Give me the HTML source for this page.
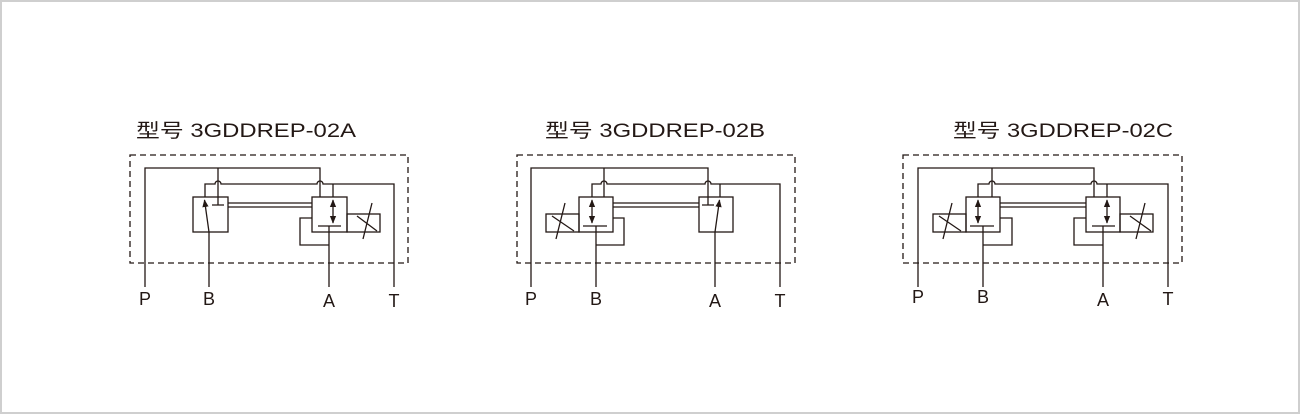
<!DOCTYPE html>
<html><head><meta charset="utf-8"><style>
html,body{margin:0;padding:0;background:#fff;}
.f{width:1296px;height:410px;border:2px solid #cfcfcf;position:relative;}
svg{position:absolute;left:-2px;top:-2px;}
</style></head><body><div class="f">
<svg width="1300" height="414" viewBox="0 0 1300 414" xmlns="http://www.w3.org/2000/svg">
<defs>
<marker id="ah" viewBox="0 0 10 10" refX="9" refY="5" markerWidth="6" markerHeight="6" orient="auto-start-reverse"><path d="M0,1 L10,5 L0,9 z" fill="#231815"/></marker>
</defs>
<g fill="none" stroke="#231815" stroke-width="1.3">
<!-- Diagram A -->
<rect x="130" y="155" width="278" height="108" stroke-dasharray="6,4"/>
<path d="M145 287 V168 H320 V197"/>
<path d="M218 168 V205 M212 205 H224"/>
<path d="M205 197 V184 H215 a3 3 0 0 1 6 0 H317 a3 3 0 0 1 6 0 H394 V287"/>
<rect x="193" y="197" width="35" height="35"/>
<path d="M209 287 V232 L204.5 200" marker-end="url(#ah)"/>
<path d="M228 203 H312 M228 207 H312"/>
<rect x="312" y="197" width="35" height="35"/>
<path d="M333 184 V197"/>
<path d="M333 200 V223" marker-start="url(#ah)" marker-end="url(#ah)"/>
<path d="M318 226 H341 M329 226 V287 M329 245 H300 V218 H312"/>
<rect x="347" y="214" width="33" height="18"/>
<path d="M357 216 L377 231 M363 239 L372 203"/>
<!-- Diagram B -->
<rect x="517" y="155" width="278" height="108" stroke-dasharray="6,4"/>
<path d="M531 287 V168 H708 V205 M702 205 H714"/>
<path d="M604 168 V197"/>
<path d="M592 197 V184 H601 a3 3 0 0 1 6 0 H705 a3 3 0 0 1 6 0 H780 V287"/>
<path d="M720 184 V197"/>
<rect x="579" y="197" width="34" height="35"/>
<path d="M592 200 V223" marker-start="url(#ah)" marker-end="url(#ah)"/>
<path d="M583 226 H607 M596 226 V287 M596 245 H624 V218 H613"/>
<rect x="546" y="214" width="33" height="18"/>
<path d="M552 216 L574 231 M556 239 L565 203"/>
<path d="M613 203 H699 M613 207 H699"/>
<rect x="699" y="197" width="34" height="35"/>
<path d="M715 287 V232 L719.5 200" marker-end="url(#ah)"/>
<!-- Diagram C -->
<rect x="903" y="155" width="279" height="108" stroke-dasharray="6,4"/>
<path d="M918 287 V168 H1094 V197"/>
<path d="M992 168 V197"/>
<path d="M978 197 V184 H989 a3 3 0 0 1 6 0 H1091 a3 3 0 0 1 6 0 H1168 V287"/>
<path d="M1107 184 V197"/>
<rect x="966" y="197" width="34" height="35"/>
<path d="M978 200 V223" marker-start="url(#ah)" marker-end="url(#ah)"/>
<path d="M970 226 H994 M983 226 V287 M983 245 H1012 V218 H1000"/>
<rect x="933" y="214" width="33" height="18"/>
<path d="M939 216 L961 231 M943 239 L952 203"/>
<path d="M1000 203 H1086 M1000 207 H1086"/>
<rect x="1086" y="197" width="34" height="35"/>
<path d="M1107 200 V223" marker-start="url(#ah)" marker-end="url(#ah)"/>
<path d="M1092 226 H1115 M1103 226 V287 M1103 245 H1074 V218 H1086"/>
<rect x="1120" y="214" width="33" height="18"/>
<path d="M1130 216 L1151 231 M1136 239 L1145 203"/>
</g>
<g fill="#231815" font-family="Liberation Sans, Noto Sans CJK SC, sans-serif">
<text x="136" y="137" font-size="19" textLength="220" lengthAdjust="spacingAndGlyphs">型号 3GDDREP-02A</text>
<text x="545" y="137" font-size="19" textLength="220" lengthAdjust="spacingAndGlyphs">型号 3GDDREP-02B</text>
<text x="953" y="137" font-size="19" textLength="220" lengthAdjust="spacingAndGlyphs">型号 3GDDREP-02C</text>
<g font-size="18" text-anchor="middle">
<text x="145" y="305">P</text><text x="209" y="305">B</text><text x="329" y="307">A</text><text x="394" y="307">T</text>
<text x="531" y="305">P</text><text x="596" y="305">B</text><text x="715" y="307">A</text><text x="780" y="307">T</text>
<text x="918" y="303">P</text><text x="983" y="303">B</text><text x="1103" y="306">A</text><text x="1168" y="305">T</text>
</g>
</g>
</svg>
</div></body></html>
